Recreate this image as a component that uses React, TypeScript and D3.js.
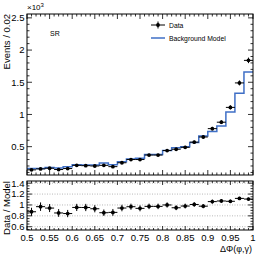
import React from 'react';
import * as d3 from 'd3';

// bin lower edges (width 0.02) from 0.5 to 1.0
const binEdges = d3.range(0, 26).map(i => +(0.5 + i * 0.02).toFixed(2));
// data, in units of 10^3 events / 0.02
const dataValues = [0.14, 0.155, 0.165, 0.145, 0.16, 0.21, 0.205, 0.2, 0.21, 0.19, 0.25, 0.3, 0.3, 0.37, 0.37, 0.44, 0.46, 0.49, 0.57, 0.65, 0.78, 0.88, 1.11, 1.49, 1.84];
const modelValues = [0.16, 0.16, 0.175, 0.17, 0.19, 0.22, 0.215, 0.215, 0.245, 0.22, 0.265, 0.31, 0.32, 0.38, 0.38, 0.44, 0.485, 0.5, 0.565, 0.665, 0.735, 0.82, 1.04, 1.33, 1.66];
const xTicks = [0.5, 0.55, 0.6, 0.65, 0.7, 0.75, 0.8, 0.85, 0.9, 0.95, 1];
const yTopTicks = [0.5, 1, 1.5, 2, 2.5];
const yBotTicks = [0.6, 0.8, 1, 1.2, 1.4];

const FONT = '"Liberation Sans", Arial, Helvetica, sans-serif';
const BLUE = '#3f6fc6';

const App = () => {
  const left = 27, right = 253;
  const topY0 = 14, topY1 = 175;
  const botY0 = 181, botY1 = 230;

  const x = d3.scaleLinear().domain([0.5, 1]).range([left, right]);
  const yTop = d3.scaleLinear().domain([0.06, 2.56]).range([topY1, topY0]);
  const yBot = d3.scaleLinear().domain([0.54, 1.44]).range([botY1, botY0]);

  const bins = dataValues.map((v, i) => {
    const err = Math.sqrt(v * 1000) / 1000;
    const m = modelValues[i];
    return {
      x0: binEdges[i], x1: binEdges[i + 1], xc: (binEdges[i] + binEdges[i + 1]) / 2,
      v, err, m, r: v / m, rErr: err / m,
    };
  });

  const stepLine = d3.line<[number, number]>().x(d => x(d[0])).y(d => d[1]);
  const stepPts: [number, number][] = [];
  bins.forEach(b => {
    stepPts.push([b.x0, yTop(b.m)]);
    stepPts.push([b.x1, yTop(b.m)]);
  });

  const xMinor = d3.range(50, 101).map(i => i / 100);
  const yTopMinor = d3.range(1, 26).map(i => i / 10);
  const yBotMinor = d3.range(11, 29).map(i => i / 20);

  const tickLabel = { fontFamily: FONT, fontSize: 9.5, fill: '#000' };

  const frameTicks = (y0: number, y1: number, yScale: d3.ScaleLinear<number, number>, yMaj: number[], yMin: number[], xMajLen: number, xMinLen: number) => (
    <g stroke="#000" strokeWidth={0.8}>
      {xMinor.map((t, i) => {
        const major = xTicks.some(m => Math.abs(m - t) < 1e-6);
        const len = major ? xMajLen : xMinLen;
        return (
          <g key={'xt' + i}>
            <line x1={x(t)} x2={x(t)} y1={y1} y2={y1 - len} />
            <line x1={x(t)} x2={x(t)} y1={y0} y2={y0 + len} />
          </g>
        );
      })}
      {yMin.filter(t => t >= yScale.domain()[0] && t <= yScale.domain()[1]).map((t, i) => {
        const major = yMaj.some(m => Math.abs(m - t) < 1e-6);
        const len = major ? 5 : 2.5;
        return (
          <g key={'yt' + i}>
            <line x1={left} x2={left + len} y1={yScale(t)} y2={yScale(t)} />
            <line x1={right} x2={right - len} y1={yScale(t)} y2={yScale(t)} />
          </g>
        );
      })}
    </g>
  );

  return (
    <svg width={266} height={258} style={{ position: 'absolute', left: 0, top: 0 }}>
      <rect width={266} height={258} fill="#fff" />

      {/* top panel */}
      <path d={stepLine(stepPts) || ''} fill="none" stroke={BLUE} strokeWidth={1.5} />
      {bins.map((b, i) => (
        <g key={'d' + i} stroke="#000" strokeWidth={1}>
          <line x1={x(b.x0)} x2={x(b.x1)} y1={yTop(b.v)} y2={yTop(b.v)} />
          <line x1={x(b.xc)} x2={x(b.xc)} y1={yTop(b.v - b.err)} y2={yTop(b.v + b.err)} />
          <circle cx={x(b.xc)} cy={yTop(b.v)} r={1.9} fill="#000" stroke="none" />
        </g>
      ))}
      {frameTicks(topY0, topY1, yTop, yTopTicks, yTopMinor, 5, 2.5)}
      <rect x={left} y={topY0} width={right - left} height={topY1 - topY0} fill="none" stroke="#000" strokeWidth={1} />
      {yTopTicks.map(t => (
        <text key={'yl' + t} x={24.5} y={yTop(t) + 3.4} textAnchor="end" style={tickLabel}>{t}</text>
      ))}
      <text x={27} y={10} style={{ fontFamily: FONT, fontSize: 8 }}>
        ×10<tspan dy={-3} fontSize={6}>3</tspan>
      </text>
      <text transform={`translate(9.5,${topY0}) rotate(-90)`} textAnchor="end" style={{ fontFamily: FONT, fontSize: 9.5 }}>Events / 0.02</text>
      <text x={50} y={36} style={{ fontFamily: FONT, fontSize: 7 }}>SR</text>

      {/* legend */}
      <g>
        <line x1={151} x2={165} y1={25} y2={25} stroke="#000" strokeWidth={1} />
        <line x1={158} x2={158} y1={21.5} y2={28.5} stroke="#000" strokeWidth={1} />
        <circle cx={158} cy={25} r={1.9} fill="#000" />
        <text x={169} y={27.5} style={{ fontFamily: FONT, fontSize: 6.8 }}>Data</text>
        <line x1={151} x2={165} y1={38} y2={38} stroke={BLUE} strokeWidth={1.5} />
        <text x={169} y={40.5} style={{ fontFamily: FONT, fontSize: 6.8 }}>Background Model</text>
      </g>

      {/* ratio panel */}
      {yBotTicks.map(t => (
        <line key={'g' + t} x1={left} x2={right} y1={yBot(t)} y2={yBot(t)} stroke="#999" strokeWidth={0.7} strokeDasharray="1,1.5" />
      ))}
      {bins.map((b, i) => (
        <g key={'r' + i} stroke="#000" strokeWidth={1}>
          <line x1={x(b.x0)} x2={x(b.x1)} y1={yBot(b.r)} y2={yBot(b.r)} />
          <line x1={x(b.xc)} x2={x(b.xc)} y1={yBot(b.r - b.rErr)} y2={yBot(b.r + b.rErr)} />
          <circle cx={x(b.xc)} cy={yBot(b.r)} r={1.9} fill="#000" stroke="none" />
        </g>
      ))}
      {frameTicks(botY0, botY1, yBot, yBotTicks, yBotMinor, 4, 2)}
      <rect x={left} y={botY0} width={right - left} height={botY1 - botY0} fill="none" stroke="#000" strokeWidth={1} />
      {yBotTicks.map(t => (
        <text key={'bl' + t} x={24.5} y={yBot(t) + 3.4} textAnchor="end" style={tickLabel}>{t}</text>
      ))}
      {xTicks.map(t => (
        <text key={'xl' + t} x={x(t)} y={240.5} textAnchor="middle" style={tickLabel}>{t}</text>
      ))}
      <text transform={`translate(9.5,208) rotate(-90)`} textAnchor="middle" style={{ fontFamily: FONT, fontSize: 9.5 }}>Data / Model</text>
      <text x={252} y={252} textAnchor="end" style={{ fontFamily: FONT, fontSize: 9 }}>ΔΦ(φ,γ)</text>
    </svg>
  );
};

export default App;
